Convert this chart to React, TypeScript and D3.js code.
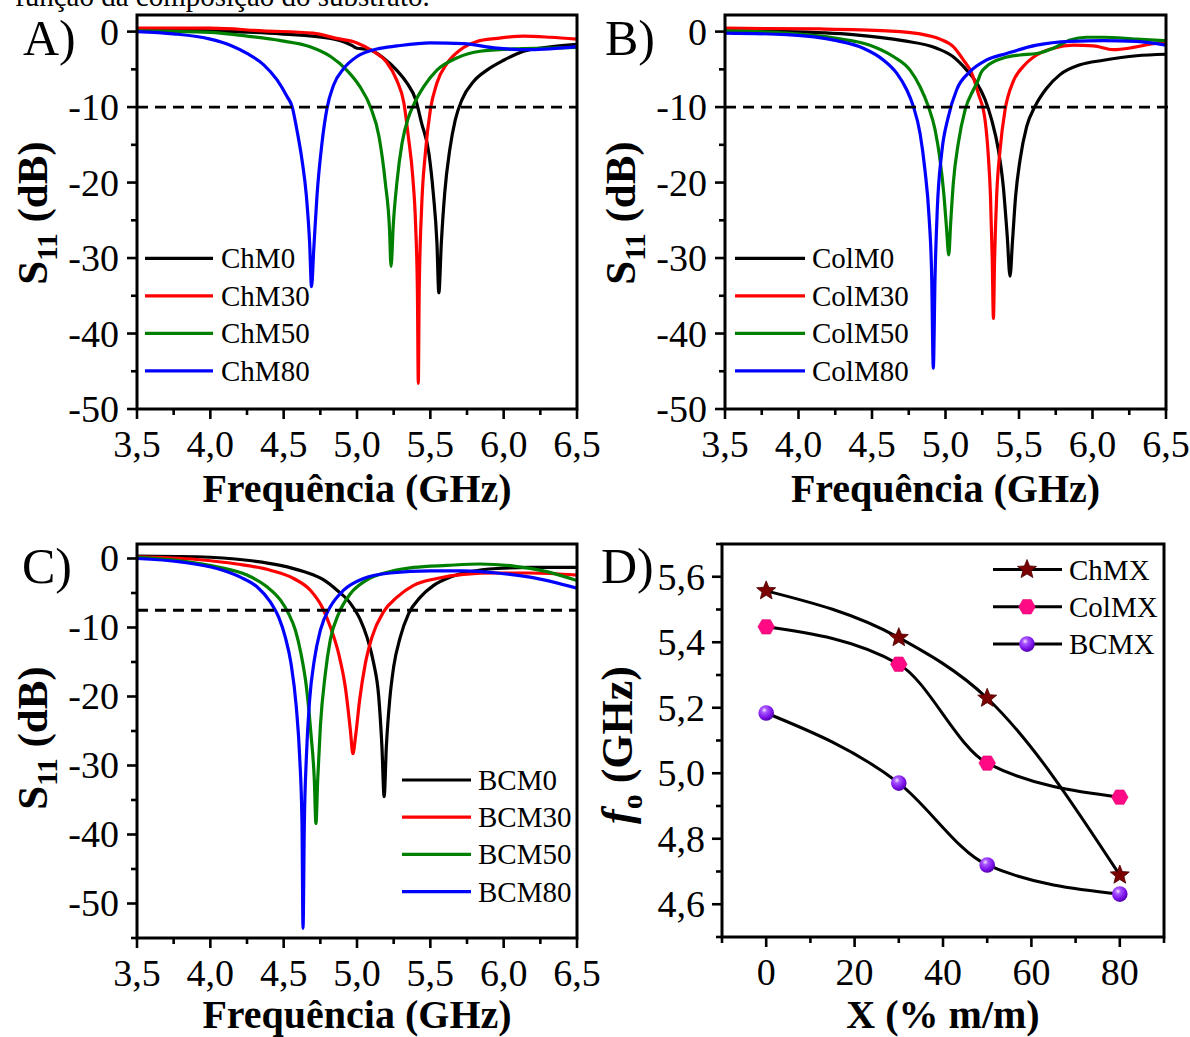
import React from 'react';
import * as d3 from 'd3';

type Pt = [number, number];

// ---------- Panel A (ChM) ----------
const chM0: Pt[] = [[3.5,0.3],[4.0,0.1],[4.48,-0.3],[4.82,-0.9],[4.93,-1.5],[4.97,-1.9],[5.0,-2.2],[5.08,-2.35],[5.18,-3.5],[5.27,-5.1],[5.34,-6.8],[5.4,-9.0],[5.44,-12.1],[5.49,-16.1],[5.52,-21.4],[5.545,-28],[5.558,-34.6],[5.575,-28],[5.598,-21.4],[5.632,-15.7],[5.67,-11.7],[5.716,-9.0],[5.795,-6.6],[5.886,-5.1],[6.0,-3.8],[6.136,-2.6],[6.295,-2.1],[6.5,-1.7]];
const chM30: Pt[] = [[3.5,0.45],[4.0,0.45],[4.36,0.1],[4.7,-0.2],[4.86,-0.9],[5.0,-1.5],[5.11,-2.6],[5.2,-4.0],[5.27,-6.4],[5.32,-9.5],[5.35,-13.9],[5.38,-19.2],[5.4,-25.8],[5.412,-34.6],[5.418,-46.6],[5.424,-34.6],[5.44,-23.6],[5.466,-16.1],[5.5,-10.4],[5.545,-6.8],[5.614,-4.2],[5.705,-2.4],[5.818,-1.3],[5.955,-0.9],[6.136,-0.6],[6.318,-0.75],[6.5,-1.0]];
const chM50: Pt[] = [[3.5,0.1],[4.0,-0.1],[4.25,-0.6],[4.48,-1.2],[4.68,-2.0],[4.82,-3.3],[4.93,-5.1],[5.02,-7.3],[5.09,-9.9],[5.15,-13.9],[5.193,-20],[5.222,-26.3],[5.232,-31.1],[5.248,-25.4],[5.272,-20],[5.307,-14.8],[5.352,-11.3],[5.386,-9.7],[5.455,-7.3],[5.545,-5.1],[5.68,-3.5],[5.84,-2.6],[6.07,-2.3],[6.3,-2.2],[6.5,-2.1]];
const chM80: Pt[] = [[3.5,0],[3.75,-0.3],[4.0,-1.0],[4.136,-1.8],[4.25,-2.9],[4.364,-4.4],[4.455,-6.4],[4.523,-8.6],[4.557,-9.9],[4.59,-13],[4.625,-17],[4.655,-21.8],[4.677,-28],[4.69,-33.8],[4.705,-28.9],[4.727,-21.8],[4.761,-14.8],[4.795,-10.2],[4.84,-7.1],[4.909,-4.9],[5.0,-3.3],[5.136,-2.3],[5.273,-1.9],[5.5,-1.5],[5.727,-1.6],[5.955,-2.2],[6.18,-2.4],[6.5,-2.0]];

// ---------- Panel B (ColM) ----------
const colM0: Pt[] = [[3.5,0.1],[3.92,0],[4.37,-0.4],[4.71,-1.2],[4.94,-2.2],[5.05,-3.3],[5.144,-5.1],[5.212,-6.8],[5.269,-9.0],[5.314,-11.7],[5.36,-15.7],[5.393,-20.5],[5.42,-27.1],[5.439,-32.4],[5.455,-28],[5.477,-21.8],[5.507,-17],[5.552,-12.6],[5.609,-9.9],[5.688,-7.5],[5.779,-5.7],[5.915,-4.4],[6.074,-3.8],[6.3,-3.2],[6.5,-3.0]];
const colM30: Pt[] = [[3.5,0.45],[4.146,0.35],[4.6,0.1],[4.827,-0.3],[4.963,-1.0],[5.053,-2.0],[5.121,-3.75],[5.178,-5.5],[5.223,-8.2],[5.269,-11.7],[5.29,-16.1],[5.306,-21.8],[5.318,-30.2],[5.326,-38],[5.334,-30.2],[5.348,-21.8],[5.371,-15.7],[5.405,-10.4],[5.461,-6.6],[5.53,-4.6],[5.62,-3.1],[5.734,-2.2],[5.87,-1.8],[6.006,-1.9],[6.142,-2.4],[6.278,-2.1],[6.414,-1.6],[6.5,-1.5]];
const colM50: Pt[] = [[3.5,0.1],[3.92,-0.2],[4.26,-0.9],[4.486,-1.8],[4.645,-3.3],[4.759,-5.1],[4.827,-7.3],[4.883,-9.9],[4.929,-13],[4.963,-17],[4.99,-21.8],[5.008,-26.3],[5.022,-29.6],[5.035,-25.4],[5.053,-20.1],[5.087,-14.8],[5.133,-10.4],[5.19,-7.7],[5.223,-6.4],[5.24,-5.5],[5.28,-4.6],[5.393,-3.5],[5.507,-3.1],[5.62,-2.9],[5.734,-2.2],[5.847,-1.1],[5.96,-0.75],[6.074,-0.75],[6.3,-1.0],[6.5,-1.2]];
const colM80: Pt[] = [[3.5,-0.2],[3.92,-0.4],[4.26,-1.2],[4.441,-2.2],[4.577,-3.75],[4.668,-5.5],[4.736,-7.7],[4.781,-9.9],[4.827,-13.5],[4.86,-18.3],[4.888,-24.5],[4.906,-32.4],[4.917,-44.6],[4.929,-32.4],[4.944,-23.6],[4.974,-16.1],[5.019,-11.3],[5.076,-7.7],[5.167,-5.3],[5.28,-3.75],[5.416,-2.9],[5.62,-1.8],[5.847,-1.3],[6.074,-1.2],[6.3,-1.3],[6.5,-1.8]];

// ---------- Panel C (BCM) ----------
const bcM0: Pt[] = [[3.5,0.35],[3.91,0.25],[4.25,-0.25],[4.477,-1.0],[4.636,-1.9],[4.773,-3.1],[4.864,-4.6],[4.955,-6.5],[5.023,-8.9],[5.068,-11.4],[5.114,-15.2],[5.148,-20],[5.17,-27.3],[5.185,-34.5],[5.2,-27.3],[5.223,-20.5],[5.25,-15.7],[5.295,-11.4],[5.352,-8],[5.432,-5.6],[5.523,-3.9],[5.636,-2.7],[5.773,-1.9],[5.955,-1.45],[6.18,-1.3],[6.5,-1.3]];
const bcM30: Pt[] = [[3.5,0.25],[3.91,-0.15],[4.18,-0.8],[4.409,-1.7],[4.568,-2.9],[4.682,-4.6],[4.761,-7.0],[4.818,-9.9],[4.875,-13.8],[4.92,-18.6],[4.955,-24.9],[4.972,-28.3],[4.99,-25.8],[5.018,-20.5],[5.057,-15.2],[5.102,-11.4],[5.182,-7.7],[5.273,-5.6],[5.386,-3.9],[5.545,-2.9],[5.727,-2.3],[5.955,-2.1],[6.18,-2.1],[6.5,-2.4]];
const bcM50: Pt[] = [[3.5,0.15],[3.795,-0.35],[4.045,-1.2],[4.25,-2.4],[4.386,-4.1],[4.477,-6],[4.534,-8],[4.58,-10.4],[4.618,-13.8],[4.655,-18.6],[4.686,-25.4],[4.709,-32.1],[4.72,-38.4],[4.732,-32.1],[4.75,-24.4],[4.784,-16.7],[4.818,-11.8],[4.875,-8],[4.955,-5.1],[5.068,-3.1],[5.227,-1.9],[5.386,-1.3],[5.614,-1.0],[5.84,-0.8],[6.068,-1.1],[6.295,-1.9],[6.5,-3.2]];
const bcM80: Pt[] = [[3.5,0],[3.795,-0.5],[4.045,-1.45],[4.205,-2.7],[4.318,-4.1],[4.409,-6.3],[4.466,-8.5],[4.511,-11.4],[4.55,-15.2],[4.586,-21.5],[4.609,-28.7],[4.625,-38.4],[4.632,-53.6],[4.641,-38.4],[4.655,-28.7],[4.677,-20.5],[4.709,-14.7],[4.75,-10.4],[4.818,-7.0],[4.909,-4.6],[5.045,-2.9],[5.227,-2.1],[5.5,-1.8],[5.727,-1.8],[5.955,-2.1],[6.18,-2.7],[6.5,-4.3]];

// ---------- Panel D ----------
const compX = [0, 30, 50, 80];
const chMX = [5.557, 5.414, 5.229, 4.689];
const colMX = [5.447, 5.333, 5.031, 4.927];
const bcMX = [5.184, 4.970, 4.720, 4.631];

const freqMajor = [3.5, 4.0, 4.5, 5.0, 5.5, 6.0, 6.5];
const freqMinor = [3.75, 4.25, 4.75, 5.25, 5.75, 6.25];
const dbMajor = [0, -10, -20, -30, -40, -50];
const dbMinorAB = [-5, -15, -25, -35, -45];
const dbMinorC = [-5, -15, -25, -35, -45, -55];
const dXMajor = [0, 20, 40, 60, 80];
const dXMinor = [-10, 10, 30, 50, 70, 90];
const dYMajor = [4.6, 4.8, 5.0, 5.2, 5.4, 5.6];
const dYMinor = [4.5, 4.7, 4.9, 5.1, 5.3, 5.5, 5.7];

const COLORS = ['#000000', '#FF0000', '#008000', '#0000FF'];
const FONT = "'Liberation Serif','Times New Roman',serif";
const comma = (v: number, p = 1) => d3.format(`.${p}f`)(v).replace('.', ',');

type Panel = {
  id: string; left: number; right: number; top: number; bottom: number;
  yDomain: [number, number]; yMinor: number[]; dashed: number; dashedEnd: number;
  label: string; labelX: number; labelY: number; titleX: number; titleCy: number; xTitleY: number;
  series: { name: string; data: Pt[] }[];
  legX1: number; legX2: number; legTx: number; legY0: number; legDy: number;
};

function S11Panel({ p }: { p: Panel }) {
  const x = d3.scaleLinear().domain([3.5, 6.5]).range([p.left, p.right]);
  const y = d3.scaleLinear().domain(p.yDomain).range([p.bottom, p.top]);
  const line = d3.line<Pt>().x(d => x(d[0])).y(d => y(d[1])).curve(d3.curveMonotoneX);
  const cx = (p.left + p.right) / 2;
  return (
    <g>
      <defs>
        <clipPath id={`clip-${p.id}`}>
          <rect x={p.left} y={p.top} width={p.right - p.left} height={p.bottom - p.top} />
        </clipPath>
      </defs>
      <g clipPath={`url(#clip-${p.id})`}>
        {p.series.map((s, i) => (
          <path key={s.name} d={line(s.data) || ''} fill="none" stroke={COLORS[i]} strokeWidth={3.2} strokeLinejoin="round" />
        ))}
      </g>
      <line x1={p.left} x2={p.dashedEnd} y1={y(p.dashed)} y2={y(p.dashed)} stroke="#000" strokeWidth={2.8} strokeDasharray="11 7" />
      <rect x={p.left} y={p.top} width={p.right - p.left} height={p.bottom - p.top} fill="none" stroke="#000" strokeWidth={3} />
      {freqMajor.map(v => <line key={'xM' + v} x1={x(v)} x2={x(v)} y1={p.bottom} y2={p.bottom + 10} stroke="#000" strokeWidth={2.6} />)}
      {freqMinor.map(v => <line key={'xm' + v} x1={x(v)} x2={x(v)} y1={p.bottom} y2={p.bottom + 6} stroke="#000" strokeWidth={2.6} />)}
      {dbMajor.map(v => <line key={'yM' + v} x1={p.left - 10} x2={p.left} y1={y(v)} y2={y(v)} stroke="#000" strokeWidth={2.6} />)}
      {p.yMinor.map(v => <line key={'ym' + v} x1={p.left - 6} x2={p.left} y1={y(v)} y2={y(v)} stroke="#000" strokeWidth={2.6} />)}
      {freqMajor.map(v => (
        <text key={'xl' + v} x={x(v)} y={p.bottom + 48} textAnchor="middle" fontSize={38} fontFamily={FONT}>{comma(v)}</text>
      ))}
      {dbMajor.map(v => (
        <text key={'yl' + v} x={p.left - 18} y={y(v) + 13} textAnchor="end" fontSize={38} fontFamily={FONT}>{String(v)}</text>
      ))}
      <text x={cx} y={p.xTitleY} textAnchor="middle" fontSize={40} fontWeight="bold" fontFamily={FONT}>Frequência (GHz)</text>
      <text transform={`translate(${p.titleX},${p.titleCy}) rotate(-90)`} textAnchor="middle" fontSize={43} fontWeight="bold" fontFamily={FONT}>
        S<tspan fontSize={29} dy={10}>11</tspan><tspan dy={-10}> (dB)</tspan>
      </text>
      <text x={p.labelX} y={p.labelY} fontSize={50} fontFamily={FONT}>{p.label}</text>
      {p.series.map((s, i) => (
        <g key={'leg' + s.name}>
          <line x1={p.legX1} x2={p.legX2} y1={p.legY0 + i * p.legDy} y2={p.legY0 + i * p.legDy} stroke={COLORS[i]} strokeWidth={3.2} />
          <text x={p.legTx} y={p.legY0 + i * p.legDy + 10} fontSize={29} fontFamily={FONT}>{s.name}</text>
        </g>
      ))}
    </g>
  );
}

const starPath = (r: number, ri: number) => {
  const pts: string[] = [];
  for (let k = 0; k < 10; k++) {
    const a = -Math.PI / 2 + (k * Math.PI) / 5;
    const rr = k % 2 === 0 ? r : ri;
    pts.push(`${(rr * Math.cos(a)).toFixed(2)},${(rr * Math.sin(a)).toFixed(2)}`);
  }
  return 'M' + pts.join('L') + 'Z';
};
const hexPath = (r: number) => {
  const pts: string[] = [];
  for (let k = 0; k < 6; k++) {
    const a = (k * Math.PI) / 3;
    pts.push(`${(r * Math.cos(a)).toFixed(2)},${(r * Math.sin(a)).toFixed(2)}`);
  }
  return 'M' + pts.join('L') + 'Z';
};

function Marker({ kind, x, y }: { kind: string; x: number; y: number }) {
  if (kind === 'star') return <path d={starPath(10, 4.4)} transform={`translate(${x},${y})`} fill="#7A0000" stroke="#4a0000" strokeWidth={0.8} />;
  if (kind === 'hex') return <path d={hexPath(8.3)} transform={`translate(${x},${y})`} fill="#FF0A84" stroke="#e00070" strokeWidth={0.6} />;
  return <circle cx={x} cy={y} r={7.8} fill="url(#sphereGrad)" />;
}

function PanelD() {
  const left = 722, right = 1164, top = 544, bottom = 937;
  const x = d3.scaleLinear().domain([-10, 90]).range([left, right]);
  const y = d3.scaleLinear().domain([4.5, 5.7]).range([bottom, top]);
  const line = d3.line<number>().x((_, i) => x(compX[i])).y(d => y(d)).curve(d3.curveMonotoneX);
  const series = [
    { name: 'ChMX', vals: chMX, kind: 'star' },
    { name: 'ColMX', vals: colMX, kind: 'hex' },
    { name: 'BCMX', vals: bcMX, kind: 'sphere' },
  ];
  return (
    <g>
      <defs>
        <radialGradient id="sphereGrad" cx="0.38" cy="0.32" r="0.7">
          <stop offset="0%" stopColor="#f4e8ff" />
          <stop offset="25%" stopColor="#a855ff" />
          <stop offset="70%" stopColor="#7a10e8" />
          <stop offset="100%" stopColor="#4e00a8" />
        </radialGradient>
      </defs>
      {series.map(s => (
        <path key={s.name} d={line(s.vals) || ''} fill="none" stroke="#000" strokeWidth={3} />
      ))}
      {series.map(s => s.vals.map((v, i) => <Marker key={s.name + i} kind={s.kind} x={x(compX[i])} y={y(v)} />))}
      <rect x={left} y={top} width={right - left} height={bottom - top} fill="none" stroke="#000" strokeWidth={3} />
      {dXMajor.map(v => <line key={'xM' + v} x1={x(v)} x2={x(v)} y1={bottom} y2={bottom + 10} stroke="#000" strokeWidth={2.6} />)}
      {dXMinor.map(v => <line key={'xm' + v} x1={x(v)} x2={x(v)} y1={bottom} y2={bottom + 6} stroke="#000" strokeWidth={2.6} />)}
      {dYMajor.map(v => <line key={'yM' + v} x1={left - 10} x2={left} y1={y(v)} y2={y(v)} stroke="#000" strokeWidth={2.6} />)}
      {dYMinor.map(v => <line key={'ym' + v} x1={left - 6} x2={left} y1={y(v)} y2={y(v)} stroke="#000" strokeWidth={2.6} />)}
      {dXMajor.map(v => (
        <text key={'xl' + v} x={x(v)} y={bottom + 48} textAnchor="middle" fontSize={38} fontFamily={FONT}>{String(v)}</text>
      ))}
      {dYMajor.map(v => (
        <text key={'yl' + v} x={left - 17} y={y(v) + 13} textAnchor="end" fontSize={38} fontFamily={FONT}>{comma(v)}</text>
      ))}
      <text x={(left + right) / 2} y={1028} textAnchor="middle" fontSize={40} fontWeight="bold" fontFamily={FONT}>X (% m/m)</text>
      <text transform={`translate(632,745) rotate(-90)`} textAnchor="middle" fontSize={44} fontWeight="bold" fontFamily={FONT}>
        <tspan fontStyle="italic">f</tspan><tspan fontSize={30} dy={10}>o</tspan><tspan dy={-10}> (GHz)</tspan>
      </text>
      <text x={601} y={583} fontSize={50} fontFamily={FONT}>D)</text>
      {series.map((s, i) => {
        const ly = 569.5 + i * 37.3;
        return (
          <g key={'leg' + s.name}>
            <line x1={993} x2={1062} y1={ly} y2={ly} stroke="#000" strokeWidth={3} />
            <Marker kind={s.kind} x={1027} y={ly} />
            <text x={1069} y={ly + 10} fontSize={29} fontFamily={FONT}>{s.name}</text>
          </g>
        );
      })}
    </g>
  );
}

const panels: Panel[] = [
  {
    id: 'A', left: 137, right: 577, top: 15, bottom: 409, yDomain: [-50, 2.2], yMinor: dbMinorAB,
    dashed: -10, dashedEnd: 577, label: 'A)', labelX: 23, labelY: 55, titleX: 47, titleCy: 213, xTitleY: 502,
    series: [{ name: 'ChM0', data: chM0 }, { name: 'ChM30', data: chM30 }, { name: 'ChM50', data: chM50 }, { name: 'ChM80', data: chM80 }],
    legX1: 145, legX2: 213, legTx: 221, legY0: 258.3, legDy: 37.5,
  },
  {
    id: 'B', left: 725, right: 1166, top: 15, bottom: 409, yDomain: [-50, 2.2], yMinor: dbMinorAB,
    dashed: -10, dashedEnd: 1172, label: 'B)', labelX: 605, labelY: 55, titleX: 635, titleCy: 213, xTitleY: 502,
    series: [{ name: 'ColM0', data: colM0 }, { name: 'ColM30', data: colM30 }, { name: 'ColM50', data: colM50 }, { name: 'ColM80', data: colM80 }],
    legX1: 735, legX2: 805, legTx: 812, legY0: 258.3, legDy: 37.5,
  },
  {
    id: 'C', left: 137, right: 577, top: 544, bottom: 938, yDomain: [-55, 2.1], yMinor: dbMinorC,
    dashed: -7.5, dashedEnd: 577, label: 'C)', labelX: 22, labelY: 583, titleX: 47, titleCy: 738, xTitleY: 1028,
    series: [{ name: 'BCM0', data: bcM0 }, { name: 'BCM30', data: bcM30 }, { name: 'BCM50', data: bcM50 }, { name: 'BCM80', data: bcM80 }],
    legX1: 402, legX2: 471, legTx: 478, legY0: 780, legDy: 37.2,
  },
];

export default function App() {
  return (
    <svg width={1190} height={1037} viewBox="0 0 1190 1037" style={{ position: 'absolute', left: 0, top: 0, background: '#fff' }}>
      <rect x={0} y={0} width={1190} height={1037} fill="#fff" />
      <text x={15} y={6} fontSize={29} fontFamily={FONT}>função da composição do substrato.</text>
      {panels.map(p => <S11Panel key={p.id} p={p} />)}
      <PanelD />
    </svg>
  );
}
